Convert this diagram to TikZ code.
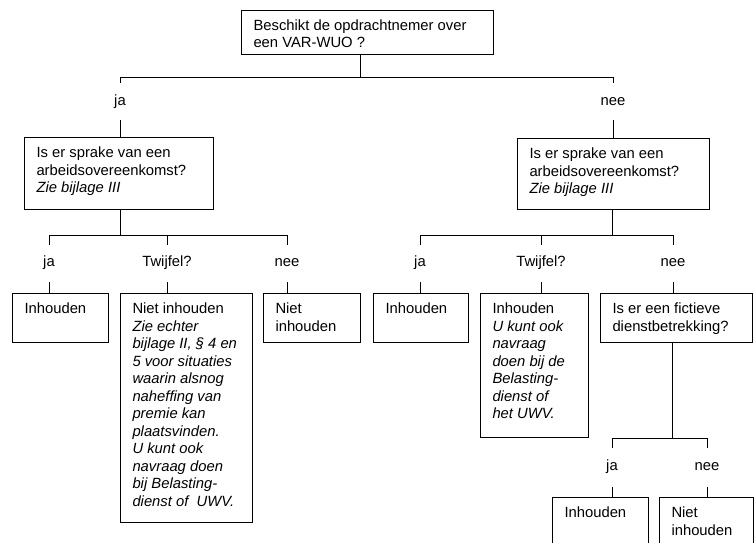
\documentclass[tikz,border=0pt]{standalone}
\usepackage{fontspec}
\setmainfont{Liberation Sans}
\tikzset{
  every node/.style={font=\fontsize{14.8}{17.5}\selectfont},
  box/.style={draw, line width=1pt, inner xsep=12pt, inner ysep=0pt, anchor=north west},
  lbl/.style={anchor=base, inner sep=0pt},
  conn/.style={line width=1pt},
}
\newcommand{\bxt}[3]{\begin{minipage}[t][#2pt][t]{#1pt}\raggedright\rule{0pt}{20pt}#3\end{minipage}}
\begin{document}
\begin{tikzpicture}[x=1pt,y=-1pt]
\clip (0,0) rectangle (755,543);
% boxes
\node[box] (T) at (241,10) {\bxt{228}{44}{Beschikt de opdrachtnemer over\\een VAR-WUO ?}};
\node[box] (L) at (24,137) {\bxt{165}{72}{Is er sprake van een\\arbeidsovereenkomst?\\\textit{Zie bijlage III}}};
\node[box] (R) at (517,138) {\bxt{168}{71}{Is er sprake van een\\arbeidsovereenkomst?\\\textit{Zie bijlage III}}};
\node[box] (A1) at (12,293) {\bxt{72}{49}{Inhouden}};
\node[box] (A2) at (120,293) {\bxt{108}{229}{Niet inhouden\\\itshape Zie echter\\bijlage II, § 4 en\\5 voor situaties\\waarin alsnog\\naheffing van\\premie kan\\plaatsvinden.\\U kunt ook\\navraag doen\\bij Belasting-\\dienst of\ \ UWV.}};
\node[box] (A3) at (263,293) {\bxt{73}{49}{Niet\\inhouden}};
\node[box] (B1) at (373,293) {\bxt{71}{49}{Inhouden}};
\node[box] (B2) at (480,293) {\bxt{84}{144}{Inhouden\\\itshape U kunt ook\\navraag\\doen bij de\\Belasting-\\dienst of\\het UWV.}};
\node[box] (B3) at (600,293) {\bxt{128}{49}{Is er een fictieve\\dienstbetrekking?}};
\node[box] (C1) at (552,497) {\bxt{72}{60}{Inhouden}};
\node[box] (C2) at (659,497) {\bxt{70}{60}{Niet\\inhouden}};
% labels
\node[lbl] (la0) at (120,105) {ja};
\node[lbl] (ln0) at (613,105) {nee};
\node[lbl] (lLa) at (49,266) {ja};
\node[lbl] (lLt) at (167,266) {Twijfel?};
\node[lbl] (lLn) at (287,266) {nee};
\node[lbl] (lRa) at (420,266) {ja};
\node[lbl] (lRt) at (541,266) {Twijfel?};
\node[lbl] (lRn) at (673,266) {nee};
\node[lbl] (lFa) at (612,470) {ja};
\node[lbl] (lFn) at (707,470) {nee};
% junctions
\coordinate (j0) at (360,78);
\coordinate (j1) at (120,235);
\coordinate (j2) at (612,235);
\coordinate (j3) at (672,438);
% top fork
\draw[conn] (T.south -| j0) -- (j0);
\draw[conn] (la0 |- j0) ++(0,5) -- ++(0,-5) -- (ln0 |- j0) -- ++(0,5);
\draw[conn] (la0.base) ++(0,15) -- (L.north -| la0);
\draw[conn] (ln0.base) ++(0,15) -- (R.north -| ln0);
% left fork
\draw[conn] (L.south -| j1) -- (j1);
\draw[conn] (lLa |- j1) ++(0,10) -- ++(0,-10) -- (lLn |- j1) -- ++(0,10);
\draw[conn] (lLt |- j1) -- ++(0,10);
\draw[conn] (lLa.base) ++(0,16) -- (A1.north -| lLa);
\draw[conn] (lLt.base) ++(0,16) -- (A2.north -| lLt);
\draw[conn] (lLn.base) ++(0,16) -- (A3.north -| lLn);
% right fork
\draw[conn] (R.south -| j2) -- (j2);
\draw[conn] (lRa |- j2) ++(0,10) -- ++(0,-10) -- (lRn |- j2) -- ++(0,10);
\draw[conn] (lRt |- j2) -- ++(0,10);
\draw[conn] (lRa.base) ++(0,16) -- (B1.north -| lRa);
\draw[conn] (lRt.base) ++(0,16) -- (B2.north -| lRt);
\draw[conn] (lRn.base) ++(0,16) -- (B3.north -| lRn);
% fictieve fork
\draw[conn] (B3.south -| j3) -- (j3);
\draw[conn] (lFa |- j3) ++(0,10) -- ++(0,-10) -- (lFn |- j3) -- ++(0,10);
\draw[conn] (lFa.base) ++(0,17) -- (C1.north -| lFa);
\draw[conn] (lFn.base) ++(0,17) -- (C2.north -| lFn);
\end{tikzpicture}
\end{document}
